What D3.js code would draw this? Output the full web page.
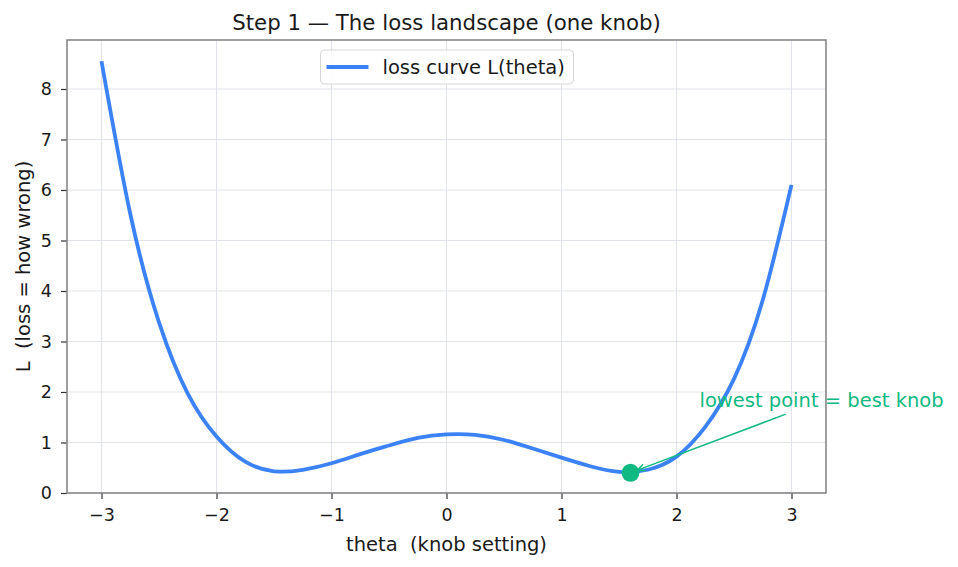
<!DOCTYPE html>
<meta charset="utf-8">
<script src="https://d3js.org/d3.v7.min.js"></script>
<style>
  body { margin: 0; background: #fff; }
  text { font-family: "DejaVu Sans", sans-serif; fill: #1a1a1a; white-space: pre; }
</style>
<div id="chart"></div>
<script>

// curve samples
var thetaValues = [-3, -2.75, -2.5, -2.25, -2, -1.75, -1.5, -1.25, -1, -0.75, -0.5, -0.25,
                   0, 0.25, 0.5, 0.75, 1, 1.25, 1.5, 1.75, 2, 2.25, 2.5, 2.75, 3];
var lossValues  = [8.55, 5.53, 3.38, 1.97, 1.12, 0.62, 0.43, 0.46, 0.59, 0.77, 0.94, 1.09,
                   1.16, 1.15, 1.05, 0.88, 0.70, 0.53, 0.42, 0.46, 0.72, 1.31, 2.26, 3.82, 6.10];
var bestPoint = [1.6, 0.40];
var noteAt = [2.2, 1.7];
var xTicks = [-3, -2, -1, 0, 1, 2, 3];
var yTicks = [0, 1, 2, 3, 4, 5, 6, 7, 8];

var W = 958, H = 567;
var margin = {top: 40, right: 132, bottom: 74, left: 67},
    width = W - margin.left - margin.right,
    height = H - margin.top - margin.bottom;

var blue = "#3b82f6", green = "#10b981";

var svg = d3.select("#chart").append("svg")
    .attr("width", W).attr("height", H);
var g = svg.append("g")
    .attr("transform", "translate(" + margin.left + "," + margin.top + ")");

var x = d3.scaleLinear().domain([-3.3, 3.3]).range([0, width]);
var y = d3.scaleLinear().domain([0, 8.97]).range([height, 0]);

// grid
g.append("g").selectAll("line").data(xTicks).enter().append("line")
    .attr("x1", d => x(d)).attr("x2", d => x(d))
    .attr("y1", 0).attr("y2", height)
    .attr("stroke", "#e0e4ea").attr("stroke-width", 1);
g.append("g").selectAll("line").data(yTicks).enter().append("line")
    .attr("y1", d => y(d)).attr("y2", d => y(d))
    .attr("x1", 0).attr("x2", width)
    .attr("stroke", "#e0e4ea").attr("stroke-width", 1);

// axes
var xAxis = g.append("g")
    .attr("transform", "translate(0," + height + ")")
    .call(d3.axisBottom(x).tickValues(xTicks).tickSize(6).tickPadding(10).tickFormat(d3.format("d")));
var yAxis = g.append("g")
    .call(d3.axisLeft(y).tickValues(yTicks).tickSize(6).tickPadding(9).tickFormat(d3.format("d")));
[xAxis, yAxis].forEach(function(a) {
  a.select(".domain").remove();
  a.selectAll(".tick line").attr("stroke", "#333").attr("stroke-width", 1.2);
  a.selectAll(".tick text").style("font-size", "17.5px").style("font-family", "DejaVu Sans").attr("fill", "#1a1a1a");
});

// frame
g.append("rect").attr("width", width).attr("height", height)
    .attr("fill", "none").attr("stroke", "#808080").attr("stroke-width", 1.5);

// curve
var pts = thetaValues.map(function(t, i) { return [t, lossValues[i]]; });
var line = d3.line()
    .x(d => x(d[0])).y(d => y(d[1]))
    .curve(d3.curveNatural);
g.append("path").datum(pts)
    .attr("d", line)
    .attr("fill", "none").attr("stroke", blue).attr("stroke-width", 3.8);

// best point
g.append("circle")
    .attr("cx", x(bestPoint[0])).attr("cy", y(bestPoint[1])).attr("r", 9)
    .attr("fill", green);

// annotation
var note = g.append("text")
    .attr("x", x(noteAt[0])).attr("y", y(noteAt[1]))
    .style("font-size", "19.5px").style("fill", green)
    .text("lowest point = best knob");
var bb = note.node().getBBox();
var cx0 = bb.x + bb.width / 2, cy0 = bb.y + bb.height / 2;
var px = x(bestPoint[0]), py = y(bestPoint[1]);
var yStart = bb.y + bb.height + 2;
var tt = (yStart - cy0) / (py - cy0);
var sx = cx0 + tt * (px - cx0), sy = yStart;
var dx = px - sx, dy = py - sy, len = Math.sqrt(dx * dx + dy * dy);
var ex = px - dx / len * 7.5, ey = py - dy / len * 7.5;
g.append("line").attr("x1", sx).attr("y1", sy).attr("x2", ex).attr("y2", ey)
    .attr("stroke", green).attr("stroke-width", 1.5);
var ang = Math.atan2(dy, dx), ah = 8, aw = 0.45;
g.append("path")
    .attr("d", "M" + (ex - ah * Math.cos(ang - aw)) + "," + (ey - ah * Math.sin(ang - aw)) +
               "L" + ex + "," + ey +
               "L" + (ex - ah * Math.cos(ang + aw)) + "," + (ey - ah * Math.sin(ang + aw)))
    .attr("fill", "none").attr("stroke", green).attr("stroke-width", 1.5);

// legend
var lg = g.append("g").attr("transform", "translate(" + (320.5 - margin.left) + "," + (50 - margin.top) + ")");
lg.append("rect").attr("width", 253).attr("height", 34).attr("rx", 4)
    .attr("fill", "#fff").attr("fill-opacity", 0.8)
    .attr("stroke", "#d6d6d6").attr("stroke-width", 1);
lg.append("line").attr("x1", 6).attr("x2", 48).attr("y1", 17).attr("y2", 17)
    .attr("stroke", blue).attr("stroke-width", 3.8);
lg.append("text").attr("x", 62).attr("y", 17).attr("dy", "0.35em")
    .style("font-size", "19.5px").text("loss curve L(theta)");

// title and labels
svg.append("text").attr("x", margin.left + width / 2).attr("y", 30)
    .attr("text-anchor", "middle").style("font-size", "21.3px")
    .text("Step 1 \u2014 The loss landscape (one knob)");
svg.append("text").attr("x", margin.left + width / 2).attr("y", 551)
    .attr("text-anchor", "middle").style("font-size", "19.5px")
    .text("theta  (knob setting)");
svg.append("text")
    .attr("transform", "translate(30," + (margin.top + height / 2) + ") rotate(-90)")
    .attr("text-anchor", "middle").style("font-size", "19.5px")
    .text("L  (loss = how wrong)");

</script>
